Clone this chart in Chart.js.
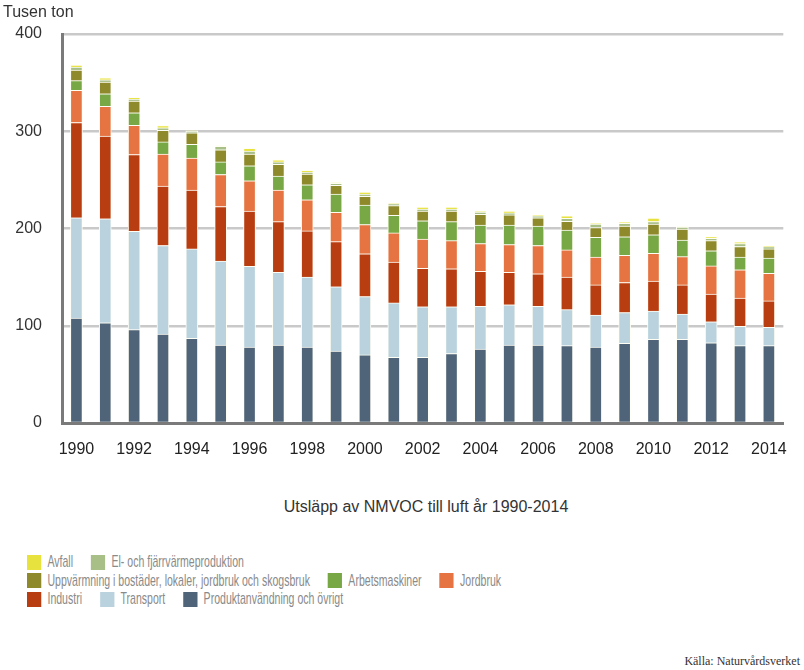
<!DOCTYPE html>
<html>
<head>
<meta charset="utf-8">
<script src="https://cdn.jsdelivr.net/npm/chart.js@4.4.1/dist/chart.umd.min.js"></script>
<style>
  body { margin: 0; background: #fff; font-family: "Liberation Sans", Arial, sans-serif; }
  #wrap { position: relative; width: 804px; height: 670px; overflow: hidden; }
  #myChart { position: absolute; left: 0; top: 0; }
  .unit { position: absolute; left: 3px; top: 3px; font-size: 16px; color: #333; }
  .title { position: absolute; left: 0; width: 852px; top: 498px; text-align: center; font-size: 16px; color: #333; }
  #legend { position: absolute; left: 27px; top: 553px; transform: scaleX(0.62); transform-origin: 0 0; white-space: nowrap; }
  .row { display: flex; align-items: center; height: 18.5px; }
  .item { display: flex; align-items: center; margin-right: 29px; font-size: 17px; color: #8a8a8a; }
  .box { display: inline-block; width: 23px; height: 15px; margin-right: 10px; }
  .source { position: absolute; right: 4px; top: 654px; font-family: "Liberation Serif", "Times New Roman", serif; font-size: 12px; color: #333; }
</style>
</head>
<body>
<div id="wrap">
  <canvas id="myChart" width="804" height="460"></canvas>
  <div class="unit">Tusen ton</div>
  <div class="title">Utsläpp av NMVOC till luft år 1990-2014</div>
  <div id="legend"></div>
  <div class="source">Källa: Naturvårdsverket</div>
</div>
<script>
// années
const years = ['1990','1991','1992','1993','1994','1995','1996','1997','1998','1999','2000','2001','2002',
               '2003','2004','2005','2006','2007','2008','2009','2010','2011','2012','2013','2014'];

// séries, du bas vers le haut de la pile (tusen ton)
const produkt   = [108, 103, 96, 91.5, 87, 80, 78, 80, 78, 74, 70, 67.5, 67.5, 71.5, 76, 80, 80, 79.5, 78, 82, 86, 86, 82.5, 79.5, 79.5];
const transport = [103, 107, 101, 91, 92, 86.5, 83, 75, 72, 66, 60, 56, 52, 48, 44, 41.5, 40, 37, 33, 31.5, 29, 26, 21.5, 20, 19];
const industri  = [98, 85, 79, 61, 60.5, 56, 57, 52, 47.5, 46.5, 44, 42, 39.5, 39, 36, 33.5, 33.5, 33.5, 31, 31, 31, 30, 28.5, 29, 27];
const jordbruk  = [33, 30.5, 30, 33, 33, 33, 31, 32.5, 32, 30, 30, 30, 30, 29, 28.5, 28.5, 29, 28, 28.5, 28, 28.5, 29, 29, 29, 28.5];
const arbets    = [10, 13, 13, 12.5, 14, 13, 15.5, 14.5, 15.5, 19, 20, 18, 19, 19.5, 19, 20, 20, 20.5, 20.5, 19, 19, 17, 15.5, 13, 15.5];
const uppv      = [11, 12, 12, 12, 12, 12.5, 12, 12, 11, 9, 9, 10, 10, 11, 11, 10.5, 8.5, 9, 10, 11, 11, 11.5, 10.5, 11, 9.5];
const el        = [3, 2.5, 2, 2.5, 1.5, 3.5, 3, 2.5, 2, 2, 2.5, 2, 2, 2, 2.5, 2, 2, 3, 3.5, 2.7, 2.7, 1.7, 2.5, 3, 2.4];
const avfall    = [2, 2, 1.5, 2.3, 0.5, 0.3, 3, 2, 1.7, 0.5, 2, 0.5, 2, 2, 0.5, 1.7, 0.5, 2.5, 0.5, 1.5, 3.5, 0.3, 1.5, 1.3, 0.7];

const yTicks = [0, 100, 200, 300, 400];

const series = [
    { label: 'Produktanvändning och övrigt', data: produkt, color: '#4f6479' },
    { label: 'Transport', data: transport, color: '#b9d2de' },
    { label: 'Industri', data: industri, color: '#b83d10' },
    { label: 'Jordbruk', data: jordbruk, color: '#e57442' },
    { label: 'Arbetsmaskiner', data: arbets, color: '#78a845' },
    { label: 'Uppvärmning i bostäder, lokaler, jordbruk och skogsbruk', data: uppv, color: '#8e8a2b' },
    { label: 'El- och fjärrvärmeproduktion', data: el, color: '#a9bf88' },
    { label: 'Avfall', data: avfall, color: '#e8e23e' }
];

// lignes de la légende (index dans series)
const legendRows = [[7, 6], [5, 4, 3], [2, 1, 0]];

const chart = new Chart(
    document.getElementById('myChart'),
    {
        type: 'bar',
        data: {
            labels: years,
            datasets: series.map(s => ({
                label: s.label,
                data: s.data,
                backgroundColor: s.color,
                borderColor: '#fffef4',
                borderWidth: { left: 1, right: 1, top: 1, bottom: 0 },
                borderSkipped: false,
                barThickness: 12
            }))
        },
        options: {
            responsive: false,
            devicePixelRatio: 1,
            animation: false,
            layout: { padding: { top: 34, right: 16, left: 0, bottom: 0 } },
            plugins: {
                legend: { display: false },
                tooltip: { enabled: false }
            },
            scales: {
                x: {
                    stacked: true,
                    afterFit: (axis) => { axis.height = 37; },
                    grid: { display: false, drawTicks: false },
                    border: { color: '#7a7a7a', width: 3 },
                    ticks: {
                        autoSkip: false,
                        maxRotation: 0,
                        padding: 17,
                        color: '#222',
                        font: { size: 16, family: 'Liberation Sans' },
                        callback: (v, i) => (i % 2 === 0 ? years[i] : '')
                    }
                },
                y: {
                    stacked: true,
                    min: 0,
                    max: 400,
                    afterFit: (axis) => { axis.width = 62; },
                    afterBuildTicks: (axis) => { axis.ticks = yTicks.map(v => ({ value: v })); },
                    grid: {
                        drawTicks: false,
                        lineWidth: 2.5,
                        color: (ctx) => (ctx.tick && ctx.tick.value > 0 ? '#c9c9c9' : 'rgba(0,0,0,0)')
                    },
                    border: { color: '#7a7a7a', width: 3 },
                    ticks: {
                        padding: 20,
                        color: '#333',
                        font: { size: 16, family: 'Liberation Sans' }
                    }
                }
            }
        }
    }
);

// légende HTML
const legendEl = document.getElementById('legend');
legendRows.forEach(row => {
    const r = document.createElement('div');
    r.className = 'row';
    row.forEach(idx => {
        const it = document.createElement('div');
        it.className = 'item';
        const b = document.createElement('span');
        b.className = 'box';
        b.style.background = series[idx].color;
        it.appendChild(b);
        it.appendChild(document.createTextNode(series[idx].label));
        r.appendChild(it);
    });
    legendEl.appendChild(r);
});
</script>
</body>
</html>
